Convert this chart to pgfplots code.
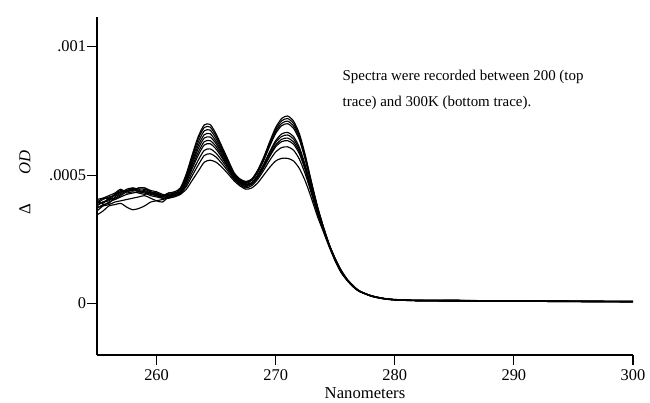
\documentclass[border=0pt]{standalone}
\usepackage{fontspec}
\setmainfont{Liberation Serif}
\usepackage{pgfplots}
\usepackage{pgfplotstable}
\pgfplotsset{compat=1.18}
% values in units of 1e-4 OD
\pgfplotstableread{
x t1 t2 t3 t4 t5 t6 t7 t8 t9 t10
255 3.9 3.8 4.0 3.7 3.95 3.85 3.6 4.05 3.75 3.45
255.5 4.05 3.95 3.9 3.85 4.1 3.95 3.8 4.1 3.8 3.6
256 4.15 4.0 4.1 3.9 4.2 4.05 3.95 4.1 3.85 3.8
256.5 4.2 4.25 4.05 4.15 4.3 4.1 4.05 4.25 3.95 3.85
257 4.35 4.4 4.2 4.3 4.45 4.25 4.15 4.35 4.0 3.9
257.5 4.4 4.35 4.35 4.45 4.3 4.4 4.25 4.4 4.05 3.75
258 4.45 4.5 4.4 4.5 4.35 4.4 4.3 4.45 4.1 3.65
258.5 4.35 4.45 4.5 4.4 4.3 4.5 4.35 4.35 4.15 3.7
259 4.35 4.45 4.5 4.35 4.25 4.5 4.4 4.3 4.2 3.8
259.5 4.3 4.35 4.4 4.25 4.3 4.35 4.3 4.2 4.1 3.95
260 4.25 4.3 4.35 4.2 4.3 4.25 4.2 4.15 4.0 4.0
260.5 4.2 4.2 4.25 4.15 4.2 4.15 4.1 4.1 3.95 4.05
261 4.3 4.25 4.2 4.3 4.15 4.2 4.1 4.15 4.15 4.1
261.5 4.35 4.3 4.3 4.3 4.25 4.25 4.2 4.2 4.2 4.15
262 4.5 4.45 4.4 4.35 4.35 4.3 4.3 4.25 4.3 4.25
262.5 5.05 5.01 4.95 4.89 4.84 4.78 4.73 4.64 4.56 4.45
263 5.8 5.73 5.64 5.54 5.45 5.35 5.26 5.12 4.98 4.8
263.5 6.5 6.41 6.28 6.15 6.03 5.89 5.77 5.58 5.39 5.15
264 6.95 6.85 6.72 6.57 6.44 6.3 6.17 5.96 5.76 5.5
264.5 6.97 6.87 6.75 6.61 6.48 6.34 6.22 6.02 5.83 5.58
265 6.6 6.52 6.42 6.31 6.22 6.11 6.01 5.85 5.7 5.5
265.5 6.1 6.04 5.97 5.89 5.82 5.74 5.67 5.56 5.44 5.3
266 5.6 5.56 5.51 5.46 5.41 5.35 5.3 5.23 5.15 5.05
266.5 5.1 5.08 5.05 5.02 4.99 4.96 4.93 4.88 4.84 4.78
267 4.85 4.83 4.81 4.78 4.76 4.73 4.7 4.67 4.63 4.58
267.5 4.75 4.73 4.7 4.67 4.65 4.62 4.59 4.55 4.5 4.45
268 4.85 4.83 4.81 4.79 4.71 4.69 4.67 4.65 4.59 4.5
268.5 5.2 5.17 5.14 5.11 5.01 4.98 4.94 4.91 4.84 4.7
269 5.7 5.66 5.62 5.57 5.43 5.39 5.34 5.29 5.19 5.0
269.5 6.3 6.24 6.18 6.12 5.91 5.85 5.78 5.72 5.57 5.3
270 6.85 6.77 6.69 6.62 6.34 6.27 6.17 6.1 5.9 5.55
270.5 7.2 7.11 7.01 6.92 6.6 6.5 6.39 6.3 6.07 5.65
271 7.3 7.2 7.1 7.0 6.66 6.56 6.44 6.34 6.1 5.65
271.5 7.1 7.01 6.91 6.82 6.5 6.4 6.29 6.2 5.97 5.55
272 6.6 6.52 6.44 6.36 6.07 5.99 5.9 5.82 5.61 5.25
272.5 5.75 5.69 5.63 5.57 5.36 5.3 5.23 5.17 5.02 4.75
273 4.75 4.71 4.67 4.63 4.5 4.46 4.41 4.37 4.28 4.1
273.5 3.8 3.78 3.75 3.73 3.64 3.62 3.59 3.57 3.51 3.4
274 3.0 2.99 2.98 2.96 2.92 2.91 2.9 2.88 2.85 2.8
274.5 2.3 2.29 2.29 2.28 2.26 2.26 2.25 2.24 2.23 2.2
275 1.75 1.74 1.74 1.73 1.71 1.71 1.7 1.69 1.68 1.65
275.5 1.3 1.29 1.28 1.27 1.26 1.25 1.24 1.23 1.22 1.2
276 0.95 0.94 0.94 0.93 0.93 0.92 0.92 0.91 0.91 0.9
276.5 0.7 0.7 0.69 0.69 0.68 0.68 0.67 0.67 0.66 0.65
277 0.5 0.5 0.5 0.49 0.49 0.49 0.48 0.48 0.48 0.48
278 0.3 0.31 0.29 0.3 0.31 0.3 0.29 0.3 0.31 0.3
279 0.2 0.21 0.19 0.2 0.2 0.21 0.19 0.2 0.2 0.2
280 0.15 0.16 0.14 0.15 0.15 0.16 0.14 0.15 0.15 0.15
282 0.12 0.13 0.11 0.12 0.13 0.12 0.11 0.12 0.12 0.11
285 0.12 0.13 0.1 0.12 0.11 0.12 0.1 0.13 0.11 0.1
288 0.1 0.11 0.09 0.1 0.1 0.11 0.09 0.1 0.1 0.09
291 0.1 0.1 0.09 0.1 0.1 0.1 0.09 0.1 0.1 0.09
294 0.09 0.1 0.08 0.09 0.09 0.1 0.08 0.09 0.09 0.08
297 0.08 0.09 0.08 0.08 0.09 0.08 0.07 0.08 0.09 0.08
300 0.08 0.08 0.07 0.08 0.08 0.08 0.07 0.08 0.08 0.07
}\spectra
\begin{document}
\begin{tikzpicture}
\path[use as bounding box] (-72.75pt,-36pt) rectangle (414.75pt,266.25pt);
\begin{axis}[
  at={(0,0)}, anchor=south west,
  scale only axis, width=402pt, height=253.5pt,
  xmin=255, xmax=300, ymin=-2, ymax=11.15,
  axis lines=left, axis line style={-, line width=0.8pt},
  tick align=outside, major tick length=7.5pt,
  tick style={black, line width=0.8pt},
  xtick={260,270,280,290,300},
  ytick={0,5,10}, yticklabels={0,.0005,.001},
  /pgf/number format/assume math mode=true,
  ticklabel style={font=\fontsize{12.3}{14}\selectfont},
  yticklabel style={inner xsep=0.5pt},
  xlabel={Nanometers},
  xlabel style={font=\fontsize{12.5}{14}\selectfont, yshift=1.5pt},
  ylabel={Δ\hspace{22pt}\textit{OD}},
  ylabel style={font=\fontsize{12.5}{14}\selectfont, at={(axis description cs:0,0.51)}, anchor=center, yshift=54pt},
  clip=false,
]
\pgfplotsinvokeforeach{1,...,10}{
  \addplot[black, line width=0.85pt, smooth, tension=0.4] table[x=x, y=t#1]{\spectra};
}
\node[anchor=west, inner sep=0pt, font=\fontsize{11.2}{13}\selectfont] at (axis cs:275.6,8.82) {Spectra were recorded between 200 (top};
\node[anchor=west, inner sep=0pt, font=\fontsize{11.2}{13}\selectfont] at (axis cs:275.6,7.81) {trace) and 300K (bottom trace).};
\end{axis}
\end{tikzpicture}
\end{document}
